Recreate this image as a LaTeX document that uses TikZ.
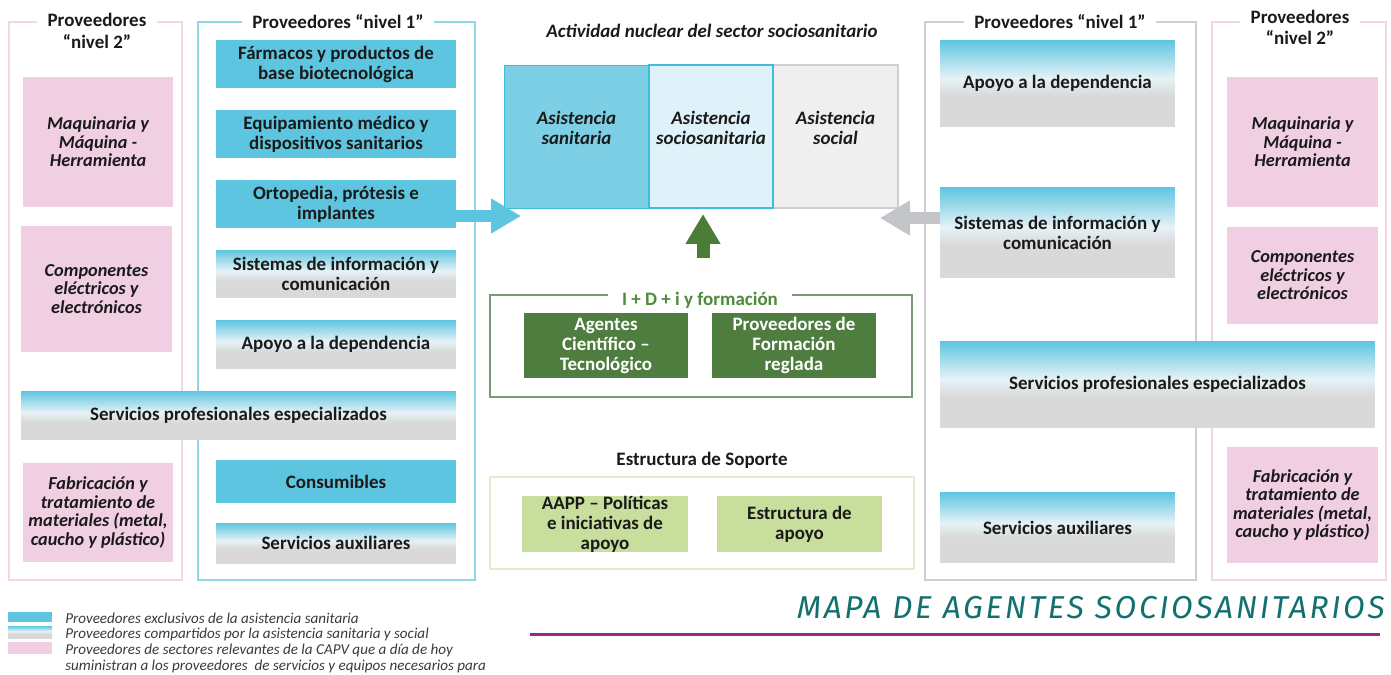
\documentclass[tikz,border=0pt]{standalone}
\usepackage{fontspec}
\setmainfont{Carlito}
\newfontfamily\titulofont{Fira Sans}[LetterSpace=8.5]
\usetikzlibrary{arrows.meta}

\definecolor{negro}{HTML}{1A1A1A}
\definecolor{cianbox}{HTML}{5EC5E0}
\definecolor{cianclaro}{HTML}{7DCFE6}
\definecolor{cianborde}{HTML}{3FBCD8}
\definecolor{socsanfill}{HTML}{DFF2F9}
\definecolor{socialfill}{HTML}{EFEFEF}
\definecolor{socialborde}{HTML}{CFCFCF}
\definecolor{grisbox}{HTML}{D9D9D9}
\definecolor{blancobox}{HTML}{E6F2F6}
\definecolor{rosabox}{HTML}{F0CFE3}
\definecolor{rosamarco}{HTML}{F2D6E6}
\definecolor{cianmarco}{HTML}{8ED6E8}
\definecolor{grismarco}{HTML}{D0D0D0}
\definecolor{verdeosc}{HTML}{4E7D3F}
\definecolor{verdemarco}{HTML}{7D977A}
\definecolor{verdetexto}{HTML}{4C8B3B}
\definecolor{verdeclaro}{HTML}{C7DE9C}
\definecolor{verdemarcocl}{HTML}{E3ECCB}
\definecolor{flechagris}{HTML}{C3C5C9}
\definecolor{flechaverde}{HTML}{4B7D37}
\definecolor{tituloazul}{HTML}{12706F}
\definecolor{rayamagenta}{HTML}{A0238C}
\definecolor{leyenda}{HTML}{3A3A3A}

\pgfdeclareverticalshading{provgrad}{100bp}{color(0bp)=(grisbox); color(25bp)=(grisbox); color(43bp)=(grisbox); color(53bp)=(blancobox); color(75bp)=(cianbox); color(100bp)=(cianbox)}

\tikzset{
	caja/.style={rectangle, inner sep=1pt, align=center, text=negro, font=\bfseries\fontsize{10.8}{11.4}\selectfont},
	cian/.style={caja, fill=cianbox},
	degr/.style={caja, shading=provgrad},
	rosa/.style={caja, fill=rosabox, font=\bfseries\itshape\fontsize{10.4}{10.5}\selectfont},
	verde/.style={caja, fill=verdeosc, text=white},
	verdecl/.style={caja, fill=verdeclaro, inner ysep=0pt},
	nucleo/.style={rectangle, minimum height=2.86cm},
	textonucleo/.style={caja, font=\bfseries\itshape\fontsize{10.8}{11.4}\selectfont},
	marco/.style={line width=0.8pt},
	titmarco/.style={fill=white, inner xsep=6pt, inner ysep=1pt, align=center, text=negro, font=\bfseries\fontsize{10.8}{12.4}\selectfont},
	flecha/.style={line width=0.26cm, -{Triangle[length=0.6cm, width=0.66cm]}},
	textoley/.style={anchor=west, inner sep=0pt, align=left, text=leyenda, font=\itshape\fontsize{8.6}{9.1}\selectfont},
}

\begin{document}
\begin{tikzpicture}[x=0.02cm, y=-0.02cm]
	\useasboundingbox (0,0) rectangle (1391,675);

	% marcos de proveedores
	\draw[marco, draw=rosamarco] (9,22) rectangle (182,580);
	\draw[marco, draw=cianmarco] (198,22) rectangle (475,580);
	\draw[marco, draw=grismarco] (925,22) rectangle (1196,580);
	\draw[marco, draw=rosamarco] (1212,22) rectangle (1386,580);

	\node[titmarco] (tn2L) at (97,31) {Proveedores\\“nivel 2”};
	\node[titmarco] (tn1L) at (338,22) {Proveedores “nivel 1”};
	\node[titmarco] (tn1R) at (1060,22) {Proveedores “nivel 1”};
	\node[titmarco] (tn2R) at (1300,27.5) {Proveedores\\“nivel 2”};

	% nivel 2 izquierda
	\node[rosa, minimum width=3cm, minimum height=2.6cm] (maqL) at (98,142) {Maquinaria y\\Máquina -\\Herramienta};
	\node[rosa, minimum width=3.02cm, minimum height=2.52cm] (compL) at (96.5,289) {Componentes\\eléctricos y\\electrónicos};
	\node[rosa, minimum width=3cm, minimum height=1.98cm] (fabL) at (98,512.5) {Fabricación y\\tratamiento de\\materiales (metal,\\caucho y plástico)};

	% nivel 1 izquierda
	\node[cian, minimum width=4.8cm, minimum height=0.96cm] (farm) at (336,64) {Fármacos y productos de\\base biotecnológica};
	\node[cian, minimum width=4.8cm, minimum height=0.96cm] (equip) at (336,134) {Equipamiento médico y\\dispositivos sanitarios};
	\node[cian, minimum width=4.8cm, minimum height=0.96cm] (orto) at (336,204) {Ortopedia, prótesis e\\implantes};
	\node[degr, minimum width=4.8cm, minimum height=0.96cm] (sistL) at (336,274) {Sistemas de información y\\comunicación};
	\node[degr, minimum width=4.8cm, minimum height=0.98cm] (apoyoL) at (336,344.5) {Apoyo a la dependencia};
	\node[degr, minimum width=8.7cm, minimum height=0.98cm] (servL) at (238.5,415.5) {Servicios profesionales especializados};
	\node[cian, minimum width=4.8cm, minimum height=0.86cm] (consum) at (336,481.5) {Consumibles};
	\node[degr, minimum width=4.8cm, minimum height=0.8cm] (auxL) at (336,543) {Servicios auxiliares};

	% actividad nuclear
	\node[textonucleo] (tnucleo) at (712,31) {Actividad nuclear del sector sociosanitario};
	\node[nucleo, fill=cianclaro, draw=cianborde, minimum width=2.9cm] (sanit) at (576.5,136.5) {};
	\node[nucleo, fill=socialfill, draw=socialborde, line width=0.8pt, minimum width=2.5cm] (social) at (835.5,136.5) {};
	\node[nucleo, fill=socsanfill, draw=cianborde, line width=1pt, minimum width=2.48cm] (socsan) at (711,136.5) {};
	\node[textonucleo] (tsanit) at ([yshift=0.17cm]sanit.center) {Asistencia\\sanitaria};
	\node[textonucleo] (tsocsan) at ([yshift=0.17cm]socsan.center) {Asistencia\\sociosanitaria};
	\node[textonucleo] (tsocial) at ([yshift=0.17cm]social.center) {Asistencia\\social};

	% flechas hacia el nucleo
	\coordinate (iniL) at (455,216);
	\coordinate (finL) at (521,216);
	\coordinate (iniR) at (943,218);
	\coordinate (finR) at (880,218);
	\coordinate (iniV) at (703,258);
	\coordinate (finV) at (703,214);
	\draw[flecha, draw=cianbox] (iniL) -- (finL);
	\draw[flecha, draw=flechagris] (iniR) -- (finR);
	\draw[flecha, draw=flechaverde] (iniV) -- (finV);

	% I+D+i
	\node[draw=verdemarco, line width=0.8pt, minimum width=8.44cm, minimum height=2.04cm] (idi) at (701,346) {};
	\node[titmarco, text=verdetexto, inner xsep=8pt] (tidi) at (700,300) {I + D + i y formación};
	\node[verde, minimum width=3.28cm, minimum height=1.3cm] (agentes) at (606,345.5) {Agentes\\Científico –\\Tecnológico};
	\node[verde, minimum width=3.28cm, minimum height=1.3cm] (formac) at (794,345.5) {Proveedores de\\Formación\\reglada};

	% estructura de soporte
	\node[caja] (tsoporte) at (702,460) {Estructura de Soporte};
	\node[draw=verdemarcocl, line width=0.8pt, minimum width=8.48cm, minimum height=1.84cm] (soporte) at (702,523) {};
	\node[verdecl, minimum width=3.32cm, minimum height=1.12cm] (aapp) at (605,524) {AAPP – Políticas\\e iniciativas de\\apoyo};
	\node[verdecl, minimum width=3.3cm, minimum height=1.12cm] (estru) at (799.5,524) {Estructura de\\apoyo};

	% nivel 1 derecha
	\node[degr, minimum width=4.7cm, minimum height=1.74cm] (apoyoR) at (1057.5,83.5) {Apoyo a la dependencia};
	\node[degr, minimum width=4.7cm, minimum height=1.82cm] (sistR) at (1057.5,232.5) {Sistemas de información y\\comunicación};
	\node[degr, minimum width=8.7cm, minimum height=1.74cm] (servR) at (1157.5,384.5) {Servicios profesionales especializados};
	\node[degr, minimum width=4.7cm, minimum height=1.42cm] (auxR) at (1057.5,527.5) {Servicios auxiliares};

	% nivel 2 derecha
	\node[rosa, minimum width=3.02cm, minimum height=2.6cm] (maqR) at (1302.5,142) {Maquinaria y\\Máquina -\\Herramienta};
	\node[rosa, minimum width=3.02cm, minimum height=1.94cm] (compR) at (1302.5,275.5) {Componentes\\eléctricos y\\electrónicos};
	\node[rosa, minimum width=3.02cm, minimum height=2.32cm] (fabR) at (1302.5,505) {Fabricación y\\tratamiento de\\materiales (metal,\\caucho y plástico)};

	% leyenda
	\fill[cianbox] (8,612) rectangle (52,622);
	\shade[shading=provgrad] (8,626) rectangle (52,638);
	\fill[rosabox] (8,642) rectangle (52,654);
	\node[textoley] (ley1) at (65,618) {Proveedores exclusivos de la asistencia sanitaria};
	\node[textoley] (ley2) at (65,634) {Proveedores compartidos por la asistencia sanitaria y social};
	\node[textoley, anchor=north west] (ley3) at (65,644) {Proveedores de sectores relevantes de la CAPV que a día de hoy\\suministran a los proveedores\ \ de servicios y equipos necesarios para};

	% titulo
	\node[anchor=base east, inner sep=0pt, text=tituloazul, font=\titulofont\itshape\fontsize{18}{18}\selectfont] (titulo) at (1385,618) {MAPA DE AGENTES SOCIOSANITARIOS};
	\draw[line width=1.7pt, rayamagenta] (530,634) -- (1380,634);
\end{tikzpicture}
\end{document}
